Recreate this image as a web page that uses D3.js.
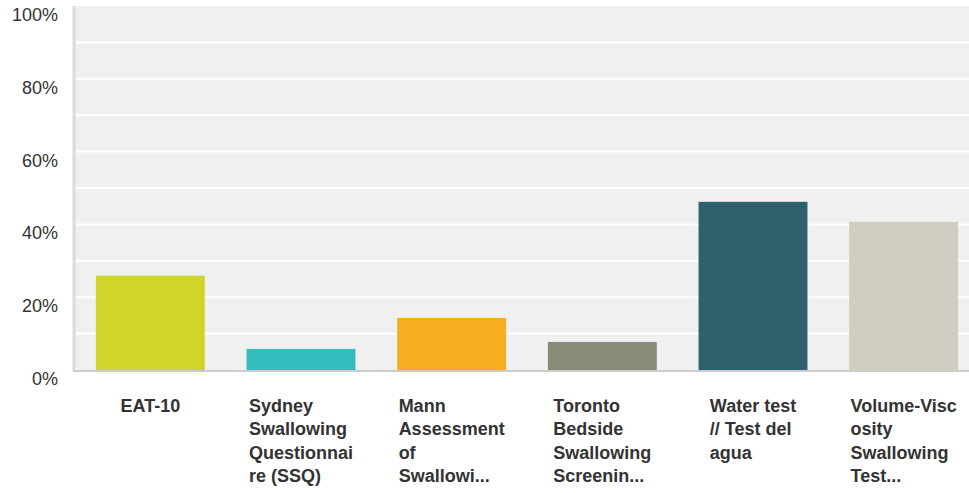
<!DOCTYPE html>
<html>
<head>
<meta charset="utf-8">
<script src="https://cdn.jsdelivr.net/npm/d3@7"></script>
<style>
  body { margin: 0; background: #fff; }
  svg { display: block; font-family: "Liberation Sans", Arial, sans-serif; }
</style>
</head>
<body>
<div id="chart"></div>
<script>
// data
const categories = ["EAT-10", "Sydney Swallowing Questionnaire (SSQ)", "Mann Assessment of Swallowi...",
  "Toronto Bedside Swallowing Screenin...", "Water test // Test del agua", "Volume-Viscosity Swallowing Test..."];
const labelLines = [
  ["EAT-10"],
  ["Sydney", "Swallowing", "Questionnai", "re (SSQ)"],
  ["Mann", "Assessment", "of", "Swallowi..."],
  ["Toronto", "Bedside", "Swallowing", "Screenin..."],
  ["Water test", "// Test del", "agua"],
  ["Volume-Visc", "osity", "Swallowing", "Test..."]
];
const values = [0.259, 0.058, 0.143, 0.077, 0.462, 0.407];
const colors = ["#d0d52a", "#34bdbf", "#f5ae1f", "#8a8a78", "#2e606d", "#d0cec0"];
const yTicks = [0, 0.2, 0.4, 0.6, 0.8, 1];

const W = 969, H = 493;
const plotLeft = 74, plotTop = 6, plotBottom = 370;

const svg = d3.select("#chart").append("svg")
  .attr("width", W).attr("height", H);

const x = d3.scaleBand()
  .domain(categories)
  .range([75, 979])
  .paddingInner(0.277)
  .paddingOuter(0.1385);

const y = d3.scaleLinear().domain([0, 1]).range([plotBottom, plotTop]);

// plot background
svg.append("rect")
  .attr("x", plotLeft).attr("y", plotTop)
  .attr("width", W - plotLeft).attr("height", plotBottom - plotTop)
  .attr("fill", "#f0f0f0");

// gridlines every 10%
svg.append("g")
  .selectAll("line")
  .data(d3.range(1, 10).map(d => d / 10))
  .join("line")
  .attr("x1", plotLeft).attr("x2", W)
  .attr("y1", d => y(d)).attr("y2", d => y(d))
  .attr("stroke", "#fff").attr("stroke-width", 2);

// bars
svg.append("g")
  .selectAll("rect")
  .data(values)
  .join("rect")
  .attr("x", (d, i) => x(categories[i]))
  .attr("y", d => y(d))
  .attr("width", x.bandwidth())
  .attr("height", d => y(0) - y(d))
  .attr("fill", (d, i) => colors[i]);

// axis lines
svg.append("line")
  .attr("x1", plotLeft).attr("x2", plotLeft)
  .attr("y1", plotTop).attr("y2", plotBottom + 1)
  .attr("stroke", "#dadada").attr("stroke-width", 3);
svg.append("line")
  .attr("x1", plotLeft - 1).attr("x2", W)
  .attr("y1", plotBottom + 1).attr("y2", plotBottom + 1)
  .attr("stroke", "#cccccc").attr("stroke-width", 2);

// y axis labels
const yAxis = svg.append("g")
  .attr("transform", `translate(58,0)`)
  .call(d3.axisLeft(y).tickValues(yTicks).tickFormat(d3.format(".0%")).tickSize(0).tickPadding(0));
yAxis.select(".domain").remove();
yAxis.selectAll("text")
  .attr("dy", "0.8em")
  .attr("font-size", 18)
  .attr("font-family", "'Liberation Sans', Arial, sans-serif")
  .attr("fill", "#333");

// x labels
const lbl = svg.append("g")
  .selectAll("text")
  .data(categories)
  .join("text")
  .attr("font-size", 18)
  .attr("font-weight", "bold")
  .attr("fill", "#333");

lbl.each(function(c, i) {
  const t = d3.select(this);
  labelLines[i].forEach((line, j) => {
    t.append("tspan").attr("y", 412 + j * 23.3).text(line);
  });
  const maxW = d3.max(t.selectAll("tspan").nodes(), n => n.getComputedTextLength());
  const cx = x(c) + x.bandwidth() / 2;
  t.selectAll("tspan").attr("x", cx - maxW / 2);
});
</script>
</body>
</html>
